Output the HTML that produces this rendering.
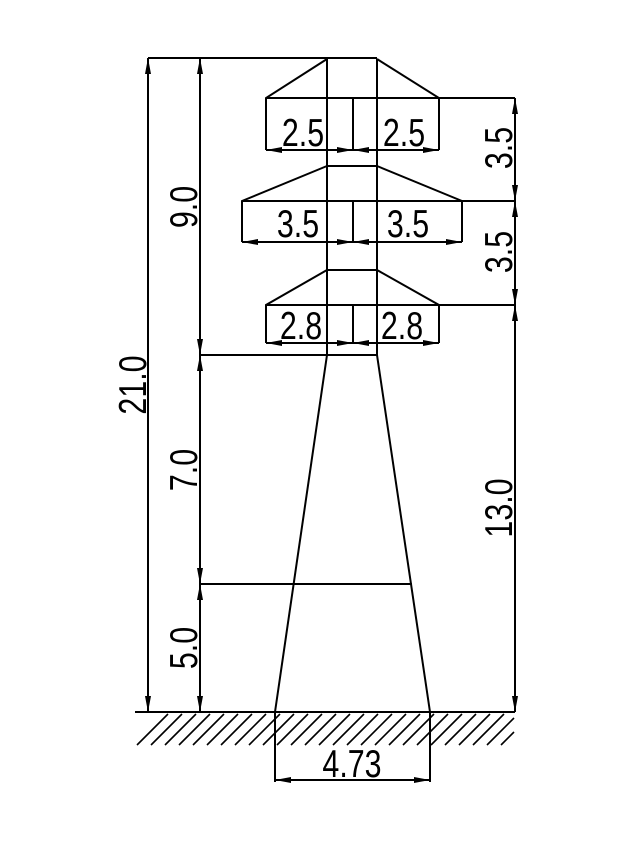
<!DOCTYPE html>
<html><head><meta charset="utf-8"><style>html,body{margin:0;padding:0;background:#fff}</style></head>
<body>
<svg width="640" height="840" viewBox="0 0 640 840" xmlns="http://www.w3.org/2000/svg">
<defs>
<marker id="a" viewBox="0 0 16 6" refX="16" refY="3" markerWidth="16" markerHeight="6" markerUnits="userSpaceOnUse" orient="auto-start-reverse"><path d="M0,0 L16,3 L0,6 z" fill="#000"/></marker>
</defs>
<g stroke="#000" stroke-width="2" fill="none">
<!-- mast -->
<line x1="327" y1="59" x2="327" y2="355"/><line x1="377" y1="59" x2="377" y2="355"/>
<line x1="148" y1="58" x2="377" y2="58"/>
<line x1="200" y1="355" x2="377" y2="355"/>
<line x1="327" y1="355" x2="275" y2="712"/><line x1="377" y1="355" x2="430" y2="712"/>
<line x1="200" y1="584" x2="412" y2="584"/>
<!-- arm 1 -->
<polyline points="327,59 266,98 266,150"/><polyline points="377,59 439,98 439,150"/>
<line x1="266" y1="98" x2="515" y2="98"/><line x1="353" y1="98" x2="353" y2="150"/>
<!-- arm 2 -->
<line x1="327" y1="166" x2="377" y2="166"/>
<polyline points="327,166 242,201 242,242"/><polyline points="377,166 462,201 462,242"/>
<line x1="242" y1="201" x2="515" y2="201"/><line x1="353" y1="201" x2="353" y2="242"/>
<!-- arm 3 -->
<line x1="327" y1="270" x2="377" y2="270"/>
<polyline points="327,270 266,305 266,343"/><polyline points="377,270 439,305 439,343"/>
<line x1="266" y1="305" x2="515" y2="305"/><line x1="353" y1="305" x2="353" y2="343"/>
<!-- ground -->
<line x1="135" y1="712" x2="515" y2="712"/>
<line x1="275" y1="712" x2="275" y2="782"/><line x1="430" y1="712" x2="430" y2="782"/>
</g>
<g stroke="#000" stroke-width="1.6">
<path d="M137,745 L168,714 M151,745 L182,714 M165,745 L196,714 M179,745 L210,714 M193,745 L224,714 M207,745 L238,714 M221,745 L252,714 M235,745 L266,714 M249,745 L280,714 M263,745 L294,714 M277,745 L308,714 M291,745 L322,714 M305,745 L336,714 M319,745 L350,714 M333,745 L364,714 M347,745 L378,714 M361,745 L392,714 M375,745 L406,714 M389,745 L420,714 M403,745 L434,714 M417,745 L448,714 M431,745 L462,714 M445,745 L476,714 M459,745 L490,714 M473,745 L504,714 M487,745 L514,718 M501,745 L514,732"/>
</g>
<g stroke="#000" stroke-width="2" marker-start="url(#a)" marker-end="url(#a)">
<line x1="266" y1="150" x2="353" y2="150"/><line x1="353" y1="150" x2="439" y2="150"/>
<line x1="242" y1="242" x2="353" y2="242"/><line x1="353" y1="242" x2="462" y2="242"/>
<line x1="266" y1="343" x2="353" y2="343"/><line x1="353" y1="343" x2="439" y2="343"/>
<line x1="275" y1="780" x2="430" y2="780"/>
<line x1="148" y1="58" x2="148" y2="712"/>
<line x1="200" y1="58" x2="200" y2="355"/>
<line x1="200" y1="355" x2="200" y2="584"/>
<line x1="200" y1="584" x2="200" y2="712"/>
<line x1="515" y1="98" x2="515" y2="201"/>
<line x1="515" y1="201" x2="515" y2="305"/>
<line x1="515" y1="305" x2="515" y2="712"/>
</g>
<g font-family="Liberation Sans, sans-serif" font-size="39" fill="#000" text-anchor="middle">
<text transform="translate(303,146) scale(0.78,1)">2.5</text>
<text transform="translate(404,146) scale(0.78,1)">2.5</text>
<text transform="translate(298,237) scale(0.78,1)">3.5</text>
<text transform="translate(408,237) scale(0.78,1)">3.5</text>
<text transform="translate(301,339) scale(0.78,1)">2.8</text>
<text transform="translate(402,339) scale(0.78,1)">2.8</text>
<text transform="translate(352,777) scale(0.78,1)">4.73</text>
<text transform="translate(146,385) rotate(-90) scale(0.78,1)">21.0</text>
<text transform="translate(197,207) rotate(-90) scale(0.78,1)">9.0</text>
<text transform="translate(197,470) rotate(-90) scale(0.78,1)">7.0</text>
<text transform="translate(197,648) rotate(-90) scale(0.78,1)">5.0</text>
<text transform="translate(512,148) rotate(-90) scale(0.78,1)">3.5</text>
<text transform="translate(512,252) rotate(-90) scale(0.78,1)">3.5</text>
<text transform="translate(512,508) rotate(-90) scale(0.78,1)">13.0</text>
</g>
</svg>
</body></html>
